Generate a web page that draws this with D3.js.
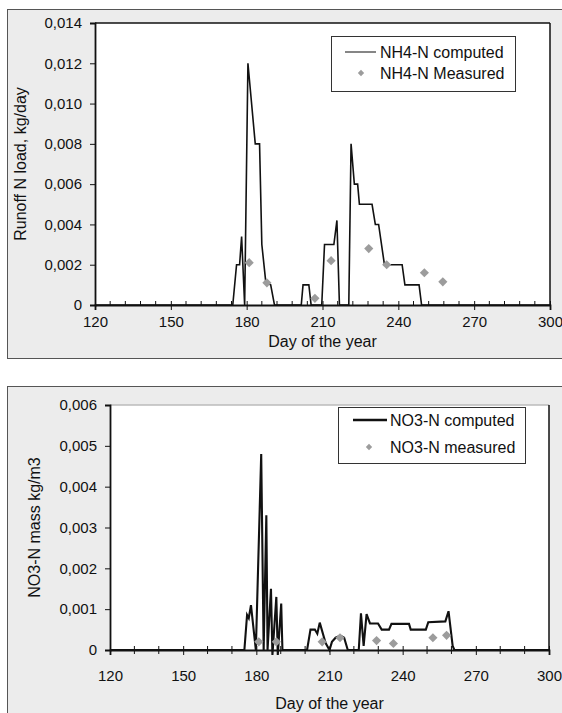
<!DOCTYPE html>
<html lang="en">
<head>
<meta charset="utf-8">
<title>NH4-N / NO3-N</title>
<script src="https://d3js.org/d3.v7.min.js"></script>
<style>
  body { margin: 0; background: #fff; }
  svg text { font-family: "Liberation Sans", Arial, sans-serif; fill: #111; }
</style>
</head>
<body>
<div id="chart"></div>
<script>
// ---- data ----
const dayTicks = [120, 150, 180, 210, 240, 270, 300];
const nh4Ticks = [0, 0.002, 0.004, 0.006, 0.008, 0.01, 0.012, 0.014];
const no3Ticks = [0, 0.001, 0.002, 0.003, 0.004, 0.005, 0.006];

// NH4-N computed (day, kg/day)
const nh4Days = [120, 174.5, 176, 177.2, 178, 179.2, 180.5, 183.4, 185.1, 186, 187.6, 189.5, 191,
  201.6, 202.3, 204.6, 205.5, 209.7, 210.8, 214.5, 215.7, 216.7, 220.4, 221.3, 222.6, 223.9,
  224.6, 229.6, 230.9, 232.2, 234.5, 241.5, 242.6, 248.2, 249.2, 300];
const nh4Comp = [0, 0, 0.002, 0.002, 0.0034, 0, 0.012, 0.008, 0.008, 0.003, 0.0011, 0.001, 0,
  0, 0.001, 0.001, 0, 0, 0.003, 0.003, 0.0042, 0, 0, 0.008, 0.006, 0.006,
  0.005, 0.005, 0.004, 0.004, 0.002, 0.002, 0.001, 0.001, 0, 0];

// NH4-N measured
const nh4MeasDays = [181, 188, 207, 213.4, 228.3, 235.4, 250.3, 257.6];
const nh4Meas = [0.0021, 0.0011, 0.00033, 0.0022, 0.0028, 0.002, 0.0016, 0.00115];

// NO3-N computed (day, kg/m3)
const no3Days = [120, 175.1, 176.2, 176.9, 177.8, 179.8, 182, 183, 184.1, 184.6, 186, 186.6,
  188.2, 188.8, 190.2, 190.7, 200.8, 202.2, 204, 205, 206, 208.4, 210, 211, 212.5, 214.5,
  216, 217.5, 222, 222.9, 224, 225.2, 226.6, 229.9, 231.4, 234.4, 235.4, 242.6, 243.3,
  249.5, 250.5, 257.5, 258.8, 260.5, 261.2, 300];
const no3Comp = [0, 0, 0.00086, 0.00078, 0.0011, 0, 0.0048, 0, 0.0033, 0, 0.0015, -0.00012,
  0.0013, -0.00012, 0.00114, 0, 0, 0.0005, 0.0005, 0.0004, 0.00067, 0.00017, 0, 0.0002, 0.0003, 0.00035,
  0.0003, 0, 0, 0.0009, 0.0001, 0.00088, 0.00065, 0.00065, 0.0005, 0.0005, 0.00064, 0.00064, 0.0005,
  0.0005, 0.00068, 0.0007, 0.00095, 0.0001, 0, 0];

// NO3-N measured
const no3MeasDays = [181, 188.2, 207, 214.3, 229.3, 236.2, 252.4, 258];
const no3Meas = [0.0002, 0.0002, 0.0002, 0.0003, 0.00023, 0.00016, 0.0003, 0.00036];

// ---- drawing ----
const W = 562, H = 713;
const svg = d3.select("#chart").append("svg")
  .attr("width", W).attr("height", H);

const loc = d3.formatLocale({decimal: ",", thousands: ".", grouping: [3], currency: ["", ""]});
function fmt(p) {
  const f = loc.format("." + p + "f");
  return d => d === 0 ? "0" : f(d);
}

function drawPanel(cfg) {
  // gray frame behind the chart
  svg.append("rect")
    .attr("x", 7.5).attr("y", cfg.panelTop + 0.5)
    .attr("width", W + 10).attr("height", cfg.panelH)
    .attr("fill", "#ececec").attr("stroke", "#555").attr("stroke-width", 1);

  const x = d3.scaleLinear().domain([120, 300]).range([cfg.left, cfg.right]);
  const y = d3.scaleLinear().domain([0, cfg.yMax]).range([cfg.bottom, cfg.top]);

  // plot area
  svg.append("rect")
    .attr("x", cfg.left).attr("y", cfg.top)
    .attr("width", cfg.right - cfg.left).attr("height", cfg.bottom - cfg.top)
    .attr("fill", "#fff");
  svg.append("line")
    .attr("x1", cfg.left).attr("x2", cfg.right).attr("y1", cfg.top).attr("y2", cfg.top)
    .attr("stroke", cfg.topStroke).attr("stroke-width", 1.3);
  svg.append("line")
    .attr("x1", cfg.right).attr("x2", cfg.right).attr("y1", cfg.top).attr("y2", cfg.bottom)
    .attr("stroke", "#111").attr("stroke-width", 1.5);

  // minor x ticks
  svg.append("g").selectAll("line")
    .data(d3.range(120, 300.1, cfg.minorStep).filter(d => d % 30 !== 0))
    .join("line")
      .attr("x1", d => x(d)).attr("x2", d => x(d))
      .attr("y1", cfg.bottom - cfg.minorUp).attr("y2", cfg.bottom + cfg.minorDown)
      .attr("stroke", "#111").attr("stroke-width", 1);

  // x axis
  const xAxis = svg.append("g")
    .attr("transform", "translate(0," + cfg.bottom + ")")
    .call(d3.axisBottom(x).tickValues(dayTicks).tickSize(5).tickPadding(cfg.xPad).tickFormat(d3.format("d")));
  xAxis.select(".domain").attr("stroke", "#111").attr("stroke-width", 1.8);
  xAxis.selectAll(".tick line").attr("stroke", "#111").attr("y1", -4);
  xAxis.selectAll("text").style("font-size", "15px").attr("fill", "#111");

  // y axis
  const yAxis = svg.append("g")
    .attr("transform", "translate(" + cfg.left + ",0)")
    .call(d3.axisLeft(y).tickValues(cfg.yTicks).tickSize(5).tickPadding(cfg.yPad).tickFormat(fmt(3)));
  yAxis.select(".domain").attr("stroke", "#111").attr("stroke-width", 1.8);
  yAxis.selectAll(".tick line").attr("stroke", "#111");
  yAxis.selectAll("text").style("font-size", "15px").attr("fill", "#111");

  // axis titles
  svg.append("text")
    .attr("x", (cfg.left + cfg.right) / 2).attr("y", cfg.xTitleY)
    .attr("text-anchor", "middle").style("font-size", "16px")
    .text("Day of the year");
  svg.append("text")
    .attr("transform", "translate(" + cfg.yTitleX + "," + (cfg.top + cfg.bottom) / 2 + ") rotate(-90)")
    .attr("text-anchor", "middle").style("font-size", "16px")
    .text(cfg.yTitle);

  // computed line
  const line = d3.line().x(d => x(d[0])).y(d => y(d[1]));
  svg.append("path")
    .datum(d3.zip(cfg.days, cfg.comp))
    .attr("d", line)
    .attr("fill", "none").attr("stroke", "#111")
    .attr("stroke-width", cfg.lineW).attr("stroke-linejoin", "miter");

  // measured points
  const diamond = d3.symbol().type(d3.symbolSquare).size(42);
  svg.append("g").selectAll("path")
    .data(d3.zip(cfg.measDays, cfg.meas))
    .join("path")
      .attr("d", diamond)
      .attr("transform", d => "translate(" + x(d[0]) + "," + y(d[1]) + ") rotate(45)")
      .attr("fill", "#9c9c9c");

  // legend
  const lg = cfg.legend;
  svg.append("rect")
    .attr("x", lg.x + 0.5).attr("y", lg.y + 0.5).attr("width", lg.w).attr("height", lg.h)
    .attr("fill", "#fff").attr("stroke", "#333").attr("stroke-width", 1);
  svg.append("line")
    .attr("x1", lg.lx1).attr("x2", lg.lx2).attr("y1", lg.row1).attr("y2", lg.row1)
    .attr("stroke", lg.lineColor).attr("stroke-width", lg.lineW);
  svg.append("path")
    .attr("d", d3.symbol().type(d3.symbolSquare).size(20))
    .attr("transform", "translate(" + lg.mx + "," + lg.row2 + ") rotate(45)")
    .attr("fill", "#9c9c9c");
  svg.append("text").attr("x", lg.tx).attr("y", lg.row1).attr("dy", "0.35em")
    .style("font-size", "16px").text(lg.labels[0]);
  svg.append("text").attr("x", lg.tx).attr("y", lg.row2).attr("dy", "0.35em")
    .style("font-size", "16px").text(lg.labels[1]);
}

drawPanel({
  panelTop: 9, panelH: 349,
  left: 95, right: 550, top: 23, bottom: 305,
  topStroke: "#111",
  yMax: 0.014, yTicks: nh4Ticks, yPad: 8, xPad: 6, minorStep: 6, minorUp: 4, minorDown: 0,
  xTitleY: 347, yTitleX: 26, yTitle: "Runoff N load, kg/day",
  days: nh4Days, comp: nh4Comp, measDays: nh4MeasDays, meas: nh4Meas, lineW: 1.6,
  legend: {x: 331, y: 36, w: 184, h: 55, lx1: 345, lx2: 376, tx: 380, mx: 361, row1: 52, row2: 73,
    lineColor: "#444", lineW: 1.3, labels: ["NH4-N computed", "NH4-N Measured"]}
});

drawPanel({
  panelTop: 386, panelH: 340,
  left: 110, right: 549, top: 405, bottom: 650,
  topStroke: "#bbb",
  yMax: 0.006, yTicks: no3Ticks, yPad: 8, xPad: 15, minorStep: 10, minorUp: 4, minorDown: 4,
  xTitleY: 709, yTitleX: 40, yTitle: "NO3-N mass kg/m3",
  days: no3Days, comp: no3Comp, measDays: no3MeasDays, meas: no3Meas, lineW: 2.1,
  legend: {x: 338, y: 407, w: 187, h: 56, lx1: 353, lx2: 387, tx: 390, mx: 369, row1: 420, row2: 447,
    lineColor: "#111", lineW: 2.5, labels: ["NO3-N computed", "NO3-N measured"]}
});
</script>
</body>
</html>
